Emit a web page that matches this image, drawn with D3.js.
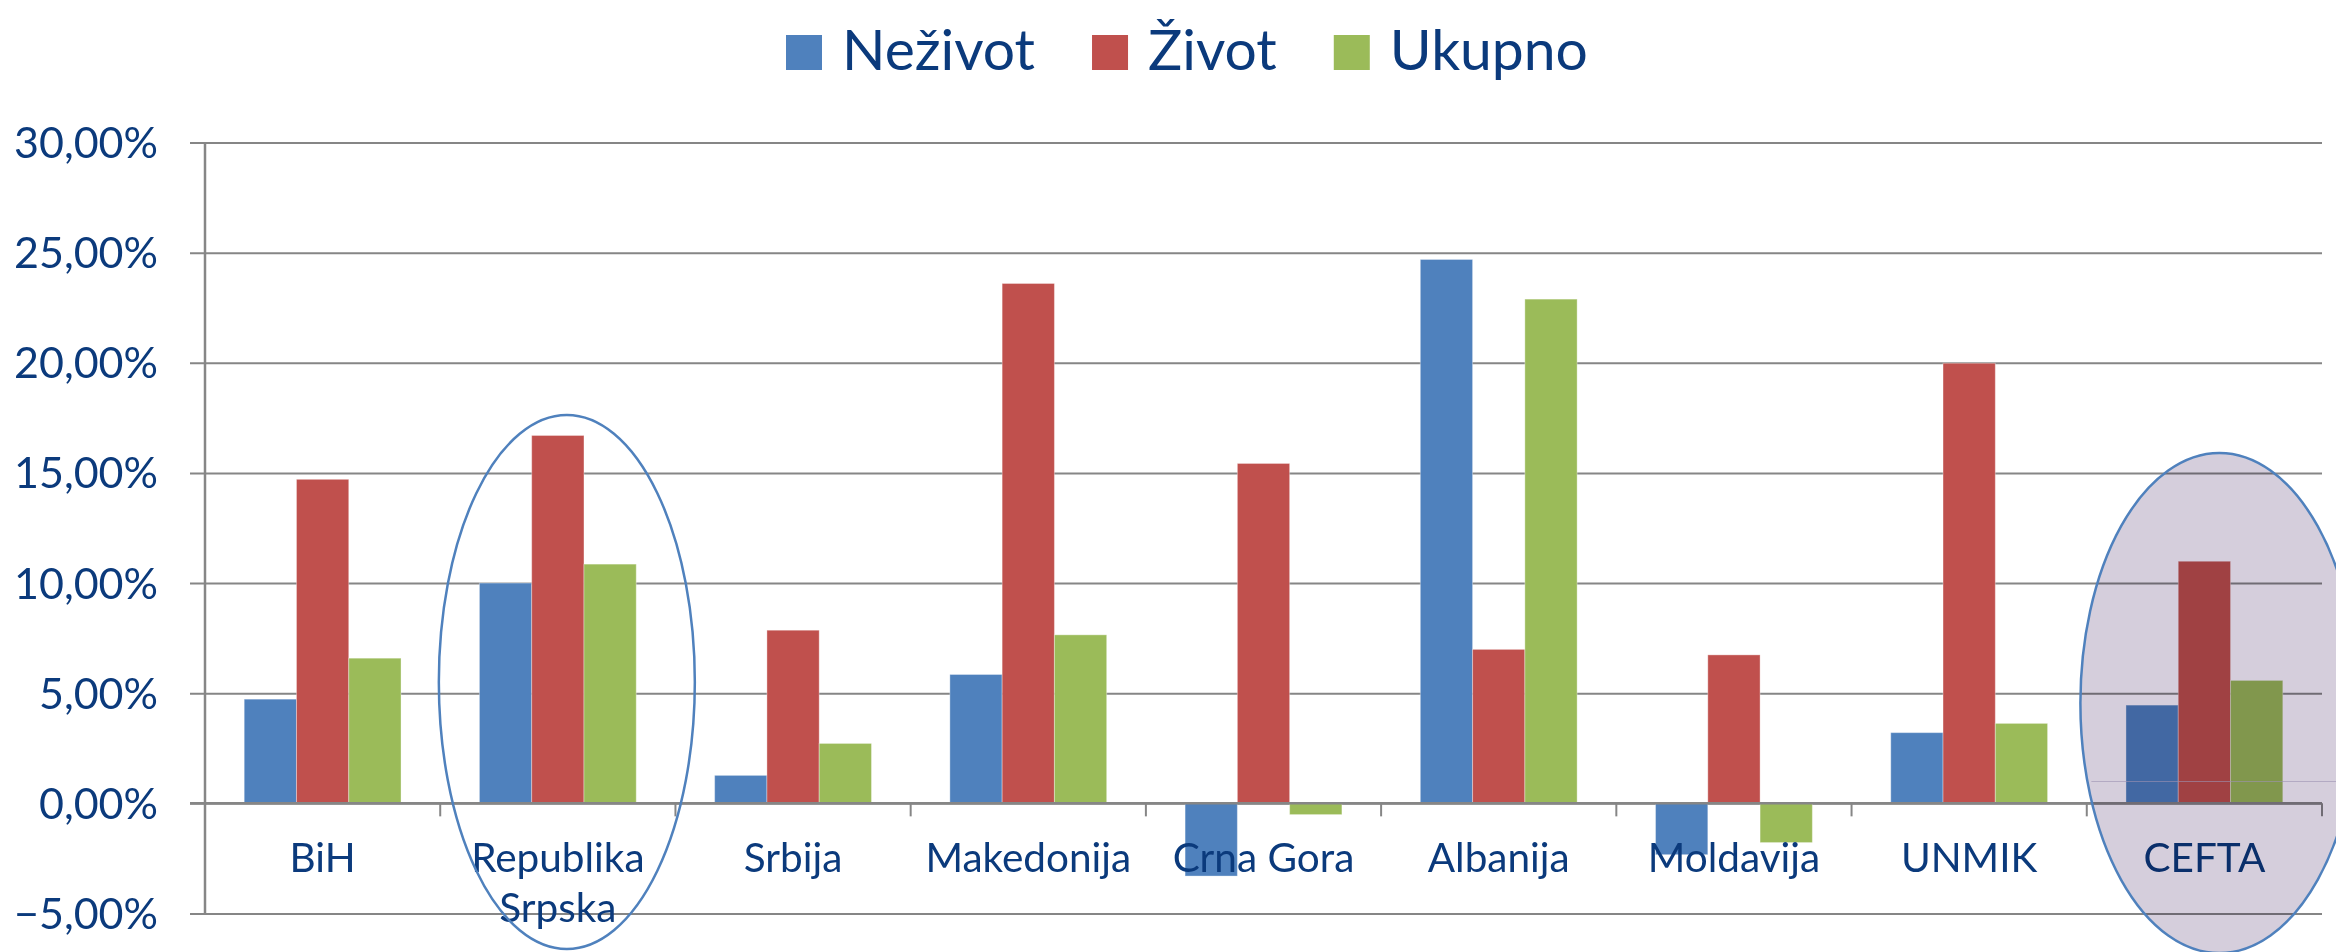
<!DOCTYPE html>
<html>
<head>
<meta charset="utf-8">
<script src="https://cdn.jsdelivr.net/npm/d3@7"></script>
<style>
  html, body { margin: 0; padding: 0; background: #fff; }
  svg { display: block; }
</style>
</head>
<body>
<svg id="chart" width="2336" height="952"></svg>
<script>
// ---- data ----
const categories = ["BiH", "Republika Srpska", "Srbija", "Makedonija", "Crna Gora", "Albanija", "Moldavija", "UNMIK", "CEFTA"];
const seriesNames = ["Neživot", "Život", "Ukupno"];
const nezivot = [4.73, 10.0, 1.27, 5.85, -3.30, 24.69, -2.33, 3.21, 4.46];
const zivot   = [14.71, 16.70, 7.86, 23.60, 15.43, 6.99, 6.74, 19.98, 10.99];
const ukupno  = [6.59, 10.86, 2.72, 7.65, -0.51, 22.89, -1.78, 3.63, 5.58];
const yTicks = [-5, 0, 5, 10, 15, 20, 25, 30];
const colors = ["#4f81bd", "#c0504d", "#9bbb59"];
const outlinedCategory = "Republika Srpska";
const shadedCategory = "CEFTA";

(function () {
const textColor = "#0b3a7c";
const gridColor = "#868686";
const font = "Lato, 'Open Sans', sans-serif";

const svg = d3.select("#chart");
const pLeft = 205, pRight = 2322, pTop = 142.5, pBottom = 913.5;

const x = d3.scaleBand().domain(categories).range([pLeft, pRight]).paddingInner(0).paddingOuter(0);
const bw = x.bandwidth();
const x1 = d3.scaleBand().domain(seriesNames).range([bw * 0.75 / 4.5, bw * 3.75 / 4.5]).padding(0);
const y = d3.scaleLinear().domain([-5, 30]).range([pBottom, pTop]);

const values = [nezivot, zivot, ukupno];
const rows = categories.map((c, i) => ({
  cat: c,
  vals: seriesNames.map((s, k) => ({ key: s, v: values[k][i], color: colors[k] }))
}));

// gridlines + y ticks (extend left)
const yAxis = d3.axisLeft(y).tickValues(yTicks).tickSize(0).tickFormat("");
const gy = svg.append("g").call(yAxis);
gy.select(".domain").remove();
gy.selectAll(".tick line")
  .attr("x1", pLeft - 15).attr("x2", pRight)
  .attr("stroke", gridColor).attr("stroke-width", 2);

// y tick labels
svg.append("g").selectAll("text").data(yTicks).join("text")
  .attr("x", 158).attr("y", d => y(d)).attr("dy", "0.36em")
  .attr("text-anchor", "end")
  .attr("font-family", font).attr("font-size", 43).attr("fill", textColor)
  .text(d => d3.format(".2f")(d).replace(".", ",") + "%");

// bars
const groups = svg.append("g").selectAll("g").data(rows).join("g")
  .attr("transform", d => `translate(${x(d.cat)},0)`);
groups.selectAll("rect").data(d => d.vals).join("rect")
  .attr("x", d => x1(d.key))
  .attr("width", x1.bandwidth())
  .attr("y", d => y(Math.max(0, d.v)))
  .attr("height", d => Math.abs(y(d.v) - y(0)))
  .attr("fill", d => d.color)
  .attr("stroke", "rgba(255,255,255,0.35)").attr("stroke-width", 1);

// y axis line
svg.append("line").attr("x1", pLeft).attr("x2", pLeft).attr("y1", y(30)).attr("y2", y(-5))
  .attr("stroke", gridColor).attr("stroke-width", 2.5);

// x axis (zero line) with tick marks at category boundaries
svg.append("line").attr("x1", pLeft - 15).attr("x2", pRight).attr("y1", y(0)).attr("y2", y(0))
  .attr("stroke", gridColor).attr("stroke-width", 2.5);
const boundaries = categories.map(c => x(c)).concat([pRight]);
svg.append("g").selectAll("line").data(boundaries.slice(1)).join("line")
  .attr("x1", d => d).attr("x2", d => d).attr("y1", y(0)).attr("y2", y(0) + 13)
  .attr("stroke", gridColor).attr("stroke-width", 2);

// category labels
const lab = svg.append("g").selectAll("text").data(categories).join("text")
  .attr("x", d => x(d) + bw / 2).attr("y", 872)
  .attr("text-anchor", "middle")
  .attr("font-family", font).attr("font-size", 40.5).attr("fill", textColor);
lab.each(function(d) {
  const words = d === "Republika Srpska" ? ["Republika", "Srpska"] : [d];
  const t = d3.select(this);
  words.forEach((w, i) => {
    t.append("tspan").attr("x", x(d) + bw / 2).attr("dy", i === 0 ? 0 : 50).text(w);
  });
});

// highlight ellipses
const cxRS = x(outlinedCategory) + bw / 2 + 9;
svg.append("ellipse")
  .attr("cx", cxRS).attr("cy", 682).attr("rx", 128).attr("ry", 267)
  .attr("fill", "none").attr("stroke", "#4f81bd").attr("stroke-width", 2.5);

const cxC = x(shadedCategory) + bw / 2 + 15;
svg.append("ellipse")
  .attr("cx", cxC).attr("cy", 703).attr("rx", 139).attr("ry", 250)
  .attr("fill", "#d5cedc").style("mix-blend-mode", "multiply")
  .attr("stroke", "none");
svg.append("line").attr("x1", cxC - 128).attr("x2", pRight + 20).attr("y1", 781.5).attr("y2", 781.5)
  .attr("stroke", "#9e93b3").attr("stroke-width", 1).attr("opacity", 0.6);
svg.append("ellipse")
  .attr("cx", cxC).attr("cy", 703).attr("rx", 139).attr("ry", 250)
  .attr("fill", "none").attr("stroke", "#4f81bd").attr("stroke-width", 2.5);

// legend
const legend = svg.append("g");
let lx = 786;
seriesNames.forEach((s, k) => {
  legend.append("rect").attr("x", lx).attr("y", 35).attr("width", 36).attr("height", 35).attr("fill", colors[k]);
  const t = legend.append("text").attr("x", lx + 56).attr("y", 70)
    .attr("font-family", font).attr("font-size", 57).attr("fill", textColor).text(s);
  const w = t.node().getComputedTextLength();
  lx = lx + 56 + w + 57;
});
})();
</script>
</body>
</html>
